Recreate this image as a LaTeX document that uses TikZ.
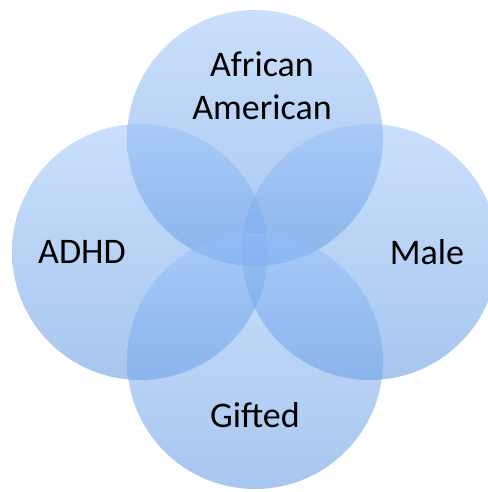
\documentclass[tikz,border=0pt]{standalone}
\usepackage{fontspec}
\setmainfont{Carlito}
\definecolor{bubbletop}{RGB}{150,192,250}
\definecolor{bubblebot}{RGB}{80,142,222}
\tikzset{
  bubble/.style={circle,minimum size=5.12cm,inner sep=0pt,top color=bubbletop,
    bottom color=bubblebot,opacity=0.5},
  bubbletext/.style={font=\fontsize{20.5}{24.5}\selectfont,align=center,text=black}
}

\begin{document}
\begin{tikzpicture}[x=0.02cm,y=-0.02cm]
\useasboundingbox (0,0) rectangle (487,492);
\node[bubble] (top) at (255,138) {};
\node[bubble] (left) at (140,252) {};
\node[bubble] (right) at (370,252) {};
\node[bubble] (bottom) at (255,361) {};
\node[bubbletext] (topt) at (262,86) {African\\American};
\node[bubbletext] (leftt) at (82,252) {ADHD};
\node[bubbletext] (rightt) at (427,252) {Male};
\node[bubbletext] (bottomt) at (255,415) {Gifted};
\end{tikzpicture}
\end{document}
